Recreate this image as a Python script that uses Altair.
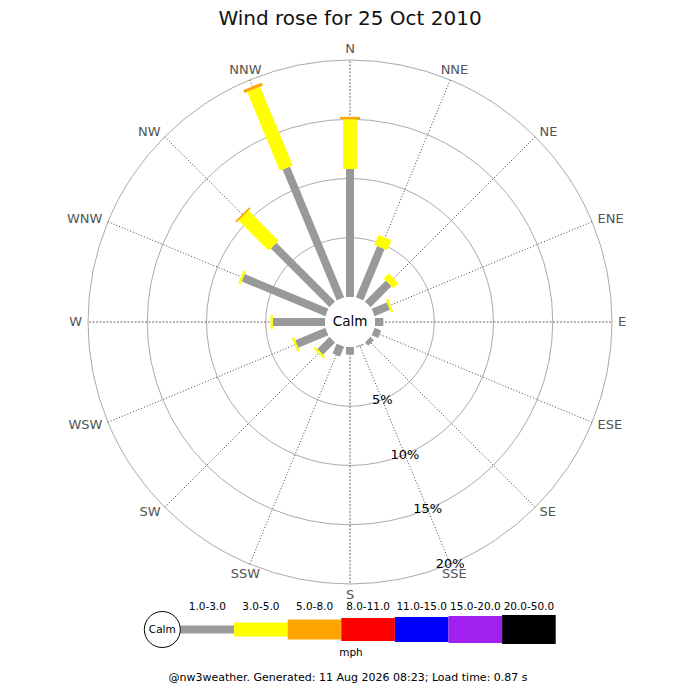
import altair as alt
import numpy as np
import pandas as pd

# ---- data -------------------------------------------------------------------
DIRECTIONS = ["N", "NNE", "NE", "ENE", "E", "ESE", "SE", "SSE",
              "S", "SSW", "SW", "WSW", "W", "WNW", "NW", "NNW"]
SPEED_BINS = ["1.0-3.0", "3.0-5.0", "5.0-8.0", "8.0-11.0",
              "11.0-15.0", "15.0-20.0", "20.0-50.0"]
# % of the day in each speed band, per direction
PCT_1_3 = [10.8, 4.7, 2.5, 1.4, 0.7, 0.6, 0.4, 0.1,
           0.65, 0.9, 1.45, 2.75, 4.4, 7.65, 7.0, 11.95]
PCT_3_5 = [4.2, 0.9, 0.6, 0.2, 0, 0, 0, 0,
           0, 0, 0.2, 0.2, 0.2, 0.2, 3.6, 7.2]
PCT_5_8 = [0.2, 0, 0, 0, 0, 0, 0, 0,
           0, 0, 0, 0, 0, 0, 0.15, 0.25]
RING_PCTS = [5, 10, 15, 20]

TITLE = "Wind rose for 25 Oct 2010"
CALM = "Calm"
UNITS = "mph"
FOOTER = "@nw3weather. Generated: 11 Aug 2026 08:23; Load time: 0.87 s"

# ---- style ------------------------------------------------------------------
FONT = "DejaVu Sans"
BIN_COLORS = ["#999999", "#ffff00", "#ffa500", "#ff0000",
              "#0000ff", "#a020f0", "#000000"]
BIN_WIDTHS = [8, 14, 20, 23, 25, 27, 29]
HOLE_R = 25          # radius of the calm circle, px
PX_PER_PCT = 11.85
OUTER_R = HOLE_R + PX_PER_PCT * RING_PCTS[-1]

W, H = 684, 676
TOP = 314            # distance from view top to rose centre
XS = alt.Scale(domain=[-W / 2, W / 2], nice=False, zero=False)
YS = alt.Scale(domain=[TOP - H, TOP], nice=False, zero=False)


def xy(xf, yf):
    return dict(x=alt.X(xf, type="quantitative", scale=XS, axis=None),
                y=alt.Y(yf, type="quantitative", scale=YS, axis=None))


def center(xv=0, yv=0):
    return dict(x=alt.XDatum(xv, scale=XS, axis=None),
                y=alt.YDatum(yv, scale=YS, axis=None))


# ---- tables -----------------------------------------------------------------
rows = []
for i, d in enumerate(DIRECTIONS):
    start = 0.0
    for k, series in enumerate([PCT_1_3, PCT_3_5, PCT_5_8]):
        v = series[i]
        if v > 0:
            rows.append({"dir": d, "angle": i * 22.5, "bin": SPEED_BINS[k],
                         "k": k, "start": start, "end": start + v})
        start += v
bars_df = pd.DataFrame(rows)
dirs_df = pd.DataFrame({"dir": DIRECTIONS,
                        "angle": [i * 22.5 for i in range(len(DIRECTIONS))],
                        "cardinal": [i % 4 == 0 for i in range(len(DIRECTIONS))]})
rings_df = pd.DataFrame({"pct": RING_PCTS})
legend_df = pd.DataFrame({"bin": SPEED_BINS, "k": list(range(len(SPEED_BINS)))})

color = alt.Color("bin:N", scale=alt.Scale(domain=SPEED_BINS, range=BIN_COLORS),
                  legend=None)
r_expr = f"{HOLE_R} + {PX_PER_PCT} * "

# ---- rings & spokes ---------------------------------------------------------
rings = alt.Chart(rings_df).transform_calculate(
    r=r_expr + "datum.pct"
).mark_arc(filled=False, stroke="#aaaaaa", strokeWidth=1,
           theta=0, theta2=2 * np.pi).encode(
    radius=alt.Radius("r:Q", scale=None, stack=False), **center()
)

spoke_base = alt.Chart(dirs_df).transform_calculate(
    a="datum.angle * PI / 180", x0="0", y0="0"
).transform_calculate(
    x1=f"{OUTER_R} * sin(datum.a)", y1=f"{OUTER_R} * cos(datum.a)"
)
spokes_minor = spoke_base.transform_filter("!datum.cardinal").mark_rule(
    color="#444444", strokeWidth=1, strokeDash=[1, 2]
).encode(x2="x1:Q", y2="y1:Q", **xy("x0", "y0"))
spokes_major = spoke_base.transform_filter("datum.cardinal").mark_rule(
    color="#666666", strokeWidth=1, strokeDash=[2, 1.5]
).encode(x2="x1:Q", y2="y1:Q", **xy("x0", "y0"))

# ---- bars -------------------------------------------------------------------
bars = alt.Chart(bars_df).transform_calculate(
    a="datum.angle * PI / 180",
    r0=r_expr + "datum.start",
    r1=r_expr + "datum.end",
    w=f"{BIN_WIDTHS}[datum.k]",
).transform_calculate(
    x0="datum.r0 * sin(datum.a)", y0="datum.r0 * cos(datum.a)",
    x1="datum.r1 * sin(datum.a)", y1="datum.r1 * cos(datum.a)",
).mark_rule(strokeCap="butt").encode(
    x2="x1:Q", y2="y1:Q", color=color,
    size=alt.Size("w:Q", scale=None, legend=None),
    **xy("x0", "y0")
)

calm_disc = alt.Chart(pd.DataFrame({"t": [CALM]})).mark_arc(
    fill="white", theta=0, theta2=2 * np.pi, radius=HOLE_R
).encode(**center())
calm_text = alt.Chart(pd.DataFrame({"t": [CALM]})).mark_text(
    font=FONT, fontSize=13.5, color="black", baseline="middle"
).encode(text="t:N", **center())

# ---- labels -----------------------------------------------------------------
lab_base = alt.Chart(dirs_df).transform_calculate(
    a="datum.angle * PI / 180"
).transform_calculate(
    s="sin(datum.a)", c="cos(datum.a)"
).transform_calculate(
    r="abs(datum.s) > 0.6 ? 268 : 273"
).transform_calculate(
    lx="datum.r * datum.s", ly="datum.r * datum.c"
)
dir_labels = []
for cond, align in [("datum.s > 0.6", "left"), ("datum.s < -0.6", "right"),
                    ("abs(datum.s) <= 0.6", "center")]:
    dir_labels.append(lab_base.transform_filter(cond).mark_text(
        font=FONT, fontSize=13, color="#555555", align=align, baseline="middle"
    ).encode(text="dir:N", **xy("lx", "ly")))

ring_labels = alt.Chart(rings_df).transform_calculate(
    r=r_expr + "datum.pct", a="157.5 * PI / 180", label="datum.pct + '%'"
).transform_calculate(
    lx="datum.r * sin(datum.a)", ly="datum.r * cos(datum.a)"
).mark_text(font=FONT, fontSize=13, color="black", baseline="middle").encode(
    text="label:N", **xy("lx", "ly")
)

# ---- legend -----------------------------------------------------------------
LEG_X0, LEG_STEP, LEG_Y = -169.5, 53.6, -307.5
leg_base = alt.Chart(legend_df).transform_calculate(
    x0=f"{LEG_X0} + {LEG_STEP} * datum.k",
    w=f"{BIN_WIDTHS}[datum.k]",
    yy=f"{LEG_Y}", ly=f"{LEG_Y + 23}",
).transform_calculate(
    x1=f"datum.x0 + {LEG_STEP}", xc=f"datum.x0 + {LEG_STEP / 2}"
)
leg_boxes = leg_base.mark_rule(strokeCap="butt").encode(
    x2="x1:Q", color=color, size=alt.Size("w:Q", scale=None, legend=None),
    **xy("x0", "yy")
)
leg_labels = leg_base.mark_text(font=FONT, fontSize=10.5, color="black",
                                baseline="middle").encode(
    text="bin:N", **xy("xc", "ly")
)
leg_calm = alt.Chart(pd.DataFrame({"t": [CALM]})).mark_arc(
    fill="white", stroke="black", strokeWidth=1, theta=0, theta2=2 * np.pi,
    radius=18
).encode(**center(-187.7, LEG_Y))
leg_calm_text = alt.Chart(pd.DataFrame({"t": [CALM]})).mark_text(
    font=FONT, fontSize=10.5, color="black", baseline="middle"
).encode(text="t:N", **center(-187.7, LEG_Y))

units = alt.Chart(pd.DataFrame({"t": [UNITS]})).mark_text(
    font=FONT, fontSize=10.5, color="black", baseline="middle"
).encode(text="t:N", **center(1, -331))
footer = alt.Chart(pd.DataFrame({"t": [FOOTER]})).mark_text(
    font=FONT, fontSize=11, color="black", baseline="bottom"
).encode(text="t:N", **center(-2, TOP - H + 1))
title = alt.Chart(pd.DataFrame({"t": [TITLE]})).mark_text(
    font=FONT, fontSize=20, color="#111111", baseline="alphabetic"
).encode(text="t:N", **center(0, 297))

chart = alt.layer(
    rings, spokes_minor, spokes_major, bars, calm_disc, calm_text,
    *dir_labels, ring_labels,
    leg_boxes, leg_calm, leg_calm_text, leg_labels, units, footer, title,
).properties(
    width=W, height=H, padding=0
).configure_view(strokeWidth=0)

chart.save("out.html", embed_options={"renderer": "svg", "actions": False})
